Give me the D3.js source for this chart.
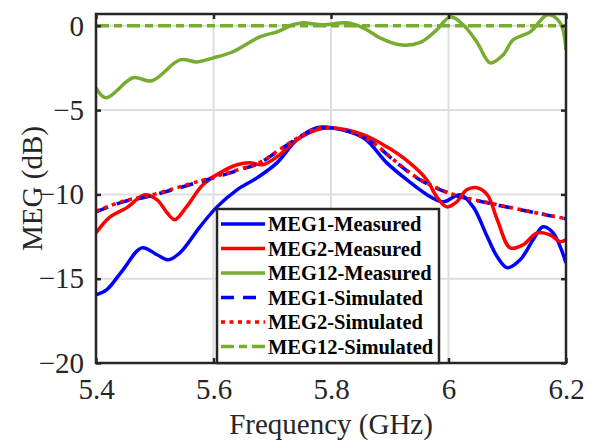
<!DOCTYPE html>
<html lang="en">
<head>
<meta charset="UTF-8">
<title>MEG</title>
<style>
  body { margin: 0; background: #fff; }
  text { font-family: "Liberation Serif", "Times New Roman", serif; }
</style>
</head>
<body>
<svg></svg>
<script src="https://d3js.org/d3.v7.min.js"></script>
<script>
// measured data (frequency in GHz, MEG in dB)
var f1m = [5.4, 5.418, 5.446, 5.478, 5.504, 5.523, 5.543, 5.577, 5.606, 5.64, 5.674, 5.708, 5.742, 5.776, 5.8,
           5.855, 5.895, 5.929, 5.969, 5.991, 6.02, 6.042, 6.066, 6.083, 6.1, 6.122, 6.144, 6.161, 6.178, 6.2];
var v1m = [-15.95, -15.66, -14.47, -13.17, -13.58, -13.88, -13.46, -11.92, -10.74, -9.73, -9.02, -8.13, -6.76, -6.05, -6.05,
           -6.64, -8.13, -9.13, -10.14, -10.44, -10.02, -10.74, -12.51, -13.7, -14.35, -13.88, -12.69, -11.92, -12.28, -14.06];

var f2m = [5.4, 5.424, 5.452, 5.483, 5.504, 5.521, 5.534, 5.554, 5.582, 5.611, 5.64, 5.662, 5.684, 5.708, 5.742, 5.776, 5.8,
           5.855, 5.895, 5.934, 5.963, 5.98, 5.997, 6.014, 6.031, 6.048, 6.066, 6.083, 6.105, 6.127, 6.151, 6.173, 6.19, 6.2];
var v2m = [-12.28, -11.33, -10.8, -10.02, -10.32, -11.09, -11.5, -10.74, -9.43, -8.72, -8.24, -8.13, -8.24, -7.77, -6.76, -6.17, -6.05,
           -6.46, -7.18, -8.13, -9.13, -10.14, -10.74, -10.44, -9.73, -9.61, -10.02, -11.5, -13.17, -12.99, -12.28, -12.4, -12.81, -12.69];

var f12m = [5.4, 5.417, 5.463, 5.495, 5.543, 5.572, 5.6, 5.633, 5.679, 5.708, 5.735, 5.752, 5.786, 5.827, 5.855, 5.883, 5.917,
            5.951, 5.98, 6.003, 6.025, 6.049, 6.071, 6.093, 6.11, 6.139, 6.169, 6.19, 6.2];
var v12m = [-3.68, -4.27, -3.08, -3.26, -2.02, -2.14, -1.9, -1.54, -0.65, -0.36, 0.06, 0.18, 0.06, 0.18, -0.12, -0.71, -1.13,
            -1.0, -0.24, 0.53, 0.06, -1.0, -2.2, -1.72, -0.83, -0.36, 0.65, 0.18, -1.42];

// simulated data
var fSim = [5.4, 5.446, 5.487, 5.577, 5.645, 5.679, 5.713, 5.747, 5.776, 5.8, 5.837, 5.871, 5.912, 5.951, 6.008, 6.066, 6.122, 6.2];
var v1s = [-11.03, -10.44, -10.14, -9.25, -8.54, -8.13, -7.35, -6.58, -6.11, -6.05, -6.35, -6.94, -8.13, -9.13, -10.02, -10.5, -10.91, -11.45];
var v2s = [-11.0, -10.4, -10.1, -9.2, -8.5, -8.1, -7.33, -6.57, -6.1, -6.05, -6.33, -6.92, -8.1, -9.1, -10.0, -10.48, -10.9, -11.44];
var f12s = [5.4, 6.2];
var v12s = [0, 0];

var xTicks = [5.4, 5.6, 5.8, 6.0, 6.2];
var yTicks = [-20, -15, -10, -5, 0];

var series = [
  {name: "MEG1-Measured",  f: f1m,  v: v1m,  color: "#0000ff", dash: null},
  {name: "MEG2-Measured",  f: f2m,  v: v2m,  color: "#ff0000", dash: null},
  {name: "MEG12-Measured", f: f12m, v: v12m, color: "#77ac30", dash: null},
  {name: "MEG1-Simulated", f: fSim, v: v1s,  color: "#0000ff", dash: "13,9"},
  {name: "MEG2-Simulated", f: fSim, v: v2s,  color: "#ff0000", dash: "4,4.5"},
  {name: "MEG12-Simulated",f: f12s, v: v12s, color: "#77ac30", dash: "13,5,8,5"}
];

var W = 595, H = 443;
var marge = {top: 14, left: 96, right: 29, bottom: 80};
var svg = d3.select("svg").attr("width", W).attr("height", H);
var pw = W - marge.left - marge.right, ph = H - marge.top - marge.bottom;

var x = d3.scaleLinear().domain([5.4, 6.2]).range([marge.left, marge.left + pw]);
var y = d3.scaleLinear().domain([-20, 0.7]).range([marge.top + ph, marge.top]);

// grid
var grid = svg.append("g").attr("stroke", "#dedede").attr("stroke-width", 2);
grid.selectAll(".gx").data(xTicks.slice(1, -1)).enter().append("line")
  .attr("x1", function(d){ return x(d); }).attr("x2", function(d){ return x(d); })
  .attr("y1", marge.top).attr("y2", marge.top + ph);
grid.selectAll(".gy").data(yTicks.slice(1)).enter().append("line")
  .attr("y1", function(d){ return y(d); }).attr("y2", function(d){ return y(d); })
  .attr("x1", marge.left).attr("x2", marge.left + pw);

// curves
svg.append("clipPath").attr("id", "clip").append("rect")
  .attr("x", marge.left).attr("y", marge.top - 2).attr("width", pw).attr("height", ph + 2);

var line = d3.line()
  .x(function(d){ return x(d[0]); })
  .y(function(d){ return y(d[1]); })
  .curve(d3.curveCatmullRom.alpha(0.5));

svg.append("g").attr("clip-path", "url(#clip)")
  .selectAll("path").data(series).enter().append("path")
  .attr("d", function(s){ return line(d3.zip(s.f, s.v)); })
  .attr("fill", "none")
  .attr("stroke", function(s){ return s.color; })
  .attr("stroke-width", 3.5)
  .attr("stroke-dasharray", function(s){ return s.dash; });

// axes with inward ticks
var axisColor = "#262626";
function styleAxis(g) {
  g.select(".domain").remove();
  g.selectAll(".tick line").attr("stroke", axisColor).attr("stroke-width", 2.5);
  g.selectAll(".tick text").attr("fill", "#262626").attr("font-size", "29px")
    .attr("font-family", "Liberation Serif, Times New Roman, serif");
}
svg.append("g").attr("transform", "translate(0," + (marge.top + ph) + ")")
  .call(d3.axisBottom(x).tickValues(xTicks).tickSize(-5).tickPadding(15).tickFormat(d3.format("")))
  .call(styleAxis);
svg.append("g").attr("transform", "translate(" + marge.left + ",0)")
  .call(d3.axisLeft(y).tickValues(yTicks).tickSize(-5).tickPadding(12))
  .call(styleAxis);
svg.append("g").attr("transform", "translate(0," + marge.top + ")")
  .call(d3.axisTop(x).tickValues(xTicks).tickSize(-5).tickFormat(""))
  .call(styleAxis);
svg.append("g").attr("transform", "translate(" + (marge.left + pw) + ",0)")
  .call(d3.axisRight(y).tickValues(yTicks).tickSize(-5).tickFormat(""))
  .call(styleAxis);

svg.append("rect")
  .attr("x", marge.left).attr("y", marge.top).attr("width", pw).attr("height", ph)
  .attr("fill", "none").attr("stroke", axisColor).attr("stroke-width", 2.5);

// axis labels
svg.append("text")
  .attr("x", marge.left + pw / 2).attr("y", 434)
  .attr("text-anchor", "middle").attr("font-size", "29px").attr("fill", "#262626")
  .text("Frequency (GHz)");
svg.append("text")
  .attr("transform", "translate(42," + (marge.top + ph / 2) + ") rotate(-90)")
  .attr("text-anchor", "middle").attr("font-size", "29px").attr("fill", "#262626")
  .text("MEG (dB)");

// legend
var lg = svg.append("g");
lg.append("rect")
  .attr("x", 217).attr("y", 209).attr("width", 222).attr("height", 154)
  .attr("fill", "#fff").attr("stroke", axisColor).attr("stroke-width", 2.5);
var rows = lg.selectAll(".row").data(series).enter().append("g")
  .attr("transform", function(d, i){ return "translate(0," + (224 + i * 24.5) + ")"; });
rows.append("line")
  .attr("x1", 221).attr("x2", 265).attr("y1", 0).attr("y2", 0)
  .attr("stroke", function(s){ return s.color; })
  .attr("stroke-width", 3.5)
  .attr("stroke-dasharray", function(s){ return s.dash; });
rows.append("text")
  .attr("x", 268).attr("y", 7)
  .attr("font-size", "20.5px").attr("font-weight", "bold").attr("fill", "#000")
  .text(function(s){ return s.name; });
</script>
</body>
</html>
